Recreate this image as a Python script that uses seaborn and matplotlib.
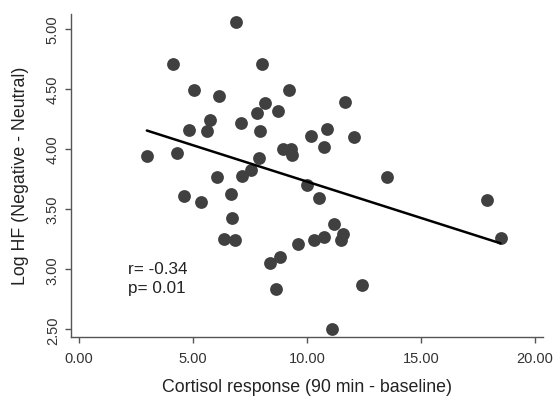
import matplotlib
matplotlib.use("Agg")
import matplotlib.pyplot as plt
import seaborn as sns
import pandas as pd

# cortisol response (90 min - baseline) and log HF difference
cortisol = [2.98, 4.12, 4.29, 4.60, 5.04, 4.82, 5.35, 6.14, 5.75, 5.61,
            6.05, 6.36, 6.84, 6.71, 6.67, 6.89, 7.11, 7.15, 7.55, 8.03,
            7.81, 7.94, 7.90, 8.16, 8.73, 9.22, 8.95, 9.31, 9.35, 8.38,
            8.82, 8.65, 11.68, 10.89, 10.18, 12.07, 10.76, 13.53, 10.01, 10.54,
            11.20, 11.59, 11.50, 10.76, 10.32, 9.61, 12.43, 11.11, 17.88, 18.49]
log_hf = [3.94, 4.71, 3.97, 3.61, 4.49, 4.16, 3.56, 4.44, 4.24, 4.15,
          3.77, 3.25, 3.24, 3.43, 3.63, 5.06, 4.22, 3.78, 3.83, 4.71,
          4.30, 4.15, 3.93, 4.38, 4.32, 4.49, 4.00, 4.00, 3.95, 3.05,
          3.10, 2.84, 4.39, 4.17, 4.11, 4.10, 4.02, 3.77, 3.70, 3.59,
          3.38, 3.29, 3.24, 3.27, 3.24, 3.21, 2.87, 2.50, 3.58, 3.26]

x_ticks = [0, 5, 10, 15, 20]
y_ticks = [2.5, 3.0, 3.5, 4.0, 4.5, 5.0]
stats_text = "r= -0.34\np= 0.01"

df = pd.DataFrame({"cortisol": cortisol, "log_hf": log_hf})

sns.set_theme(style="ticks")
plt.rcParams["font.family"] = ["Liberation Sans", "DejaVu Sans"]

fig = plt.figure(figsize=(5.54, 4.02), dpi=100)
ax = fig.add_axes([0.128, 0.160, 0.852, 0.803])

sns.regplot(
    data=df, x="cortisol", y="log_hf", ax=ax, ci=None, truncate=True,
    scatter_kws=dict(s=85, color="#404040", alpha=1, linewidths=0),
    line_kws=dict(color="black", linewidth=1.8),
)

ax.set_xlim(-0.35, 20.35)
ax.set_ylim(2.44, 5.125)
ax.set_xticks(x_ticks)
ax.set_yticks(y_ticks)
ax.set_xticklabels([f"{v:.2f}" for v in x_ticks], fontsize=10.5, color="#333333")
ax.set_yticklabels([f"{v:.2f}" for v in y_ticks], fontsize=10.5, color="#333333",
                   rotation=90, va="center")
ax.tick_params(axis="both", direction="out", length=4, width=1, color="#555555")
ax.tick_params(axis="x", pad=6)
ax.tick_params(axis="y", pad=4)

for side in ["top", "right"]:
    ax.spines[side].set_visible(False)
for side in ["left", "bottom"]:
    ax.spines[side].set_color("#555555")
    ax.spines[side].set_linewidth(1)

ax.set_xlabel("Cortisol response (90 min - baseline)", fontsize=12.8,
              color="#222222", labelpad=10)
ax.set_ylabel("Log HF (Negative - Neutral)", fontsize=12.8,
              color="#222222", labelpad=12)

ax.text(2.15, 2.93, stats_text, fontsize=12.3, color="#222222",
        ha="left", va="center", linespacing=1.3)

fig.savefig("out.png", dpi=100)
plt.close(fig)
